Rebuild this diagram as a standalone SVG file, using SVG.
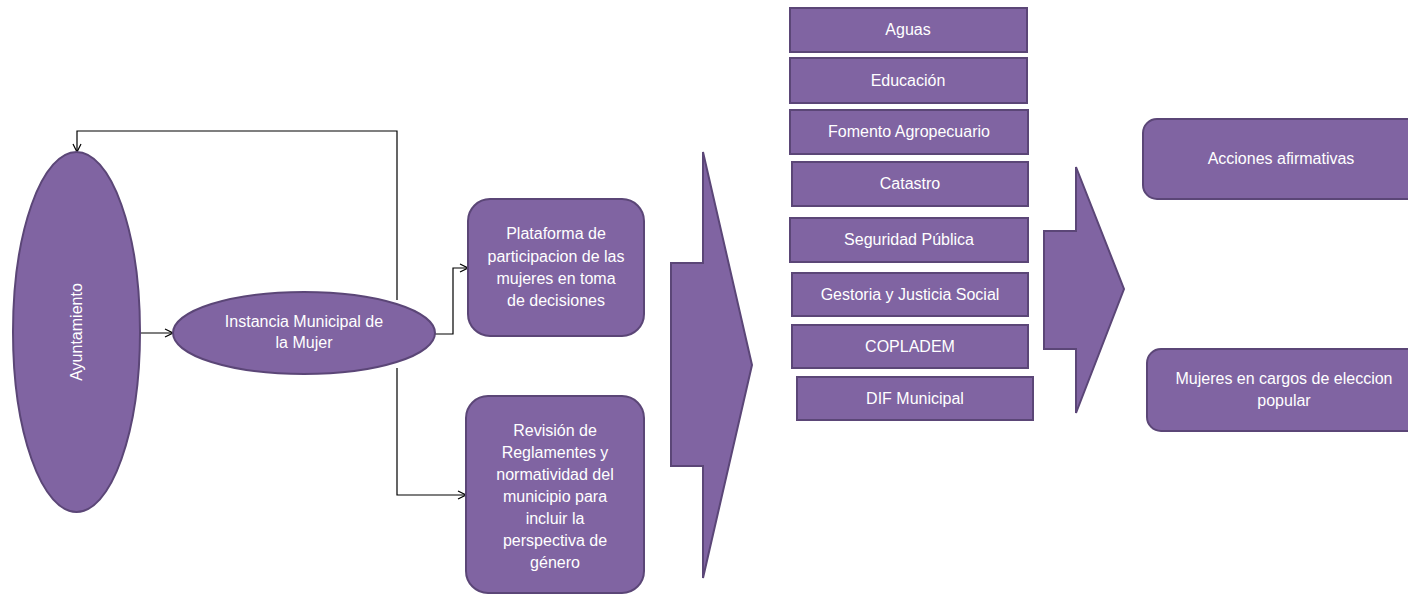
<svg xmlns="http://www.w3.org/2000/svg" width="1408" height="595" viewBox="0 0 1408 595">
<defs>
<style>
.n{fill:#8064A2;stroke:#5B4677;stroke-width:2}
.t{font-family:"Liberation Sans",Arial,sans-serif;font-size:16px;fill:#FFFFFF;text-anchor:middle}
.c{fill:none;stroke:#000;stroke-width:1.2}
</style>
<marker id="ar" viewBox="0 0 10 10" refX="9" refY="5" markerWidth="10" markerHeight="10" markerUnits="userSpaceOnUse" orient="auto">
<path d="M1,1 L9,5 L1,9" fill="none" stroke="#000" stroke-width="1.2"/>
</marker>
</defs>
<rect width="1408" height="595" fill="#FFFFFF"/>
<g id="connectors">
<path class="c" d="M397,300 V131 H77 V152" marker-end="url(#ar)"/>
<path class="c" d="M397,368 V495 H466" marker-end="url(#ar)"/>
<path class="c" d="M140,333 H173" marker-end="url(#ar)"/>
<path class="c" d="M435,334 H453 V268 H468" marker-end="url(#ar)"/>
</g>
<g id="ayuntamiento">
<ellipse class="n" cx="76.5" cy="332" rx="63.5" ry="180"/>
<text class="t" transform="translate(82,332) rotate(-90)">Ayuntamiento</text>
</g>
<g id="instancia">
<ellipse class="n" cx="304" cy="333" rx="131" ry="41"/>
<text class="t" x="304" y="327">Instancia Municipal de</text>
<text class="t" x="304" y="348">la Mujer</text>
</g>
<g id="plataforma">
<rect class="n" x="468" y="199" width="176" height="137" rx="22"/>
<text class="t" x="556" y="239">Plataforma de</text>
<text class="t" x="556" y="262">participacion de las</text>
<text class="t" x="556" y="284">mujeres en toma</text>
<text class="t" x="556" y="306">de decisiones</text>
</g>
<g id="revision">
<rect class="n" x="466" y="396" width="178" height="197" rx="22"/>
<text class="t" x="555" y="436">Revisión de</text>
<text class="t" x="555" y="458">Reglamentes y</text>
<text class="t" x="555" y="480">normatividad del</text>
<text class="t" x="555" y="502">municipio para</text>
<text class="t" x="555" y="524">incluir la</text>
<text class="t" x="555" y="546">perspectiva de</text>
<text class="t" x="555" y="568">género</text>
</g>
<g id="flecha1">
<polygon class="n" points="671,263 703,263 703,152 752,365 703,578 703,466 671,466"/>
</g>
<g id="aguas">
<rect class="n" x="790" y="8" width="237" height="44"/>
<text class="t" x="908" y="35">Aguas</text>
</g>
<g id="educacion">
<rect class="n" x="790" y="58" width="237" height="45"/>
<text class="t" x="908" y="86">Educación</text>
</g>
<g id="fomento">
<rect class="n" x="790" y="110" width="238" height="44"/>
<text class="t" x="909" y="137">Fomento Agropecuario</text>
</g>
<g id="catastro">
<rect class="n" x="792" y="162" width="236" height="44"/>
<text class="t" x="910" y="189">Catastro</text>
</g>
<g id="seguridad">
<rect class="n" x="790" y="218" width="238" height="44"/>
<text class="t" x="909" y="245">Seguridad Pública</text>
</g>
<g id="gestoria">
<rect class="n" x="792" y="273" width="236" height="43"/>
<text class="t" x="910" y="300">Gestoria y Justicia Social</text>
</g>
<g id="coplademe">
<rect class="n" x="792" y="325" width="236" height="43"/>
<text class="t" x="910" y="352">COPLADEM</text>
</g>
<g id="dif">
<rect class="n" x="797" y="377" width="236" height="43"/>
<text class="t" x="915" y="404">DIF Municipal</text>
</g>
<g id="flecha2">
<polygon class="n" points="1044,231 1076,231 1076,167 1124,289 1076,413 1076,349 1044,349"/>
</g>
<g id="acciones">
<rect class="n" x="1143" y="119" width="285" height="80" rx="14"/>
<text class="t" x="1281" y="164">Acciones afirmativas</text>
</g>
<g id="mujeres">
<rect class="n" x="1147" y="349" width="281" height="82" rx="14"/>
<text class="t" x="1284" y="384">Mujeres en cargos de eleccion</text>
<text class="t" x="1284" y="406">popular</text>
</g>
</svg>
